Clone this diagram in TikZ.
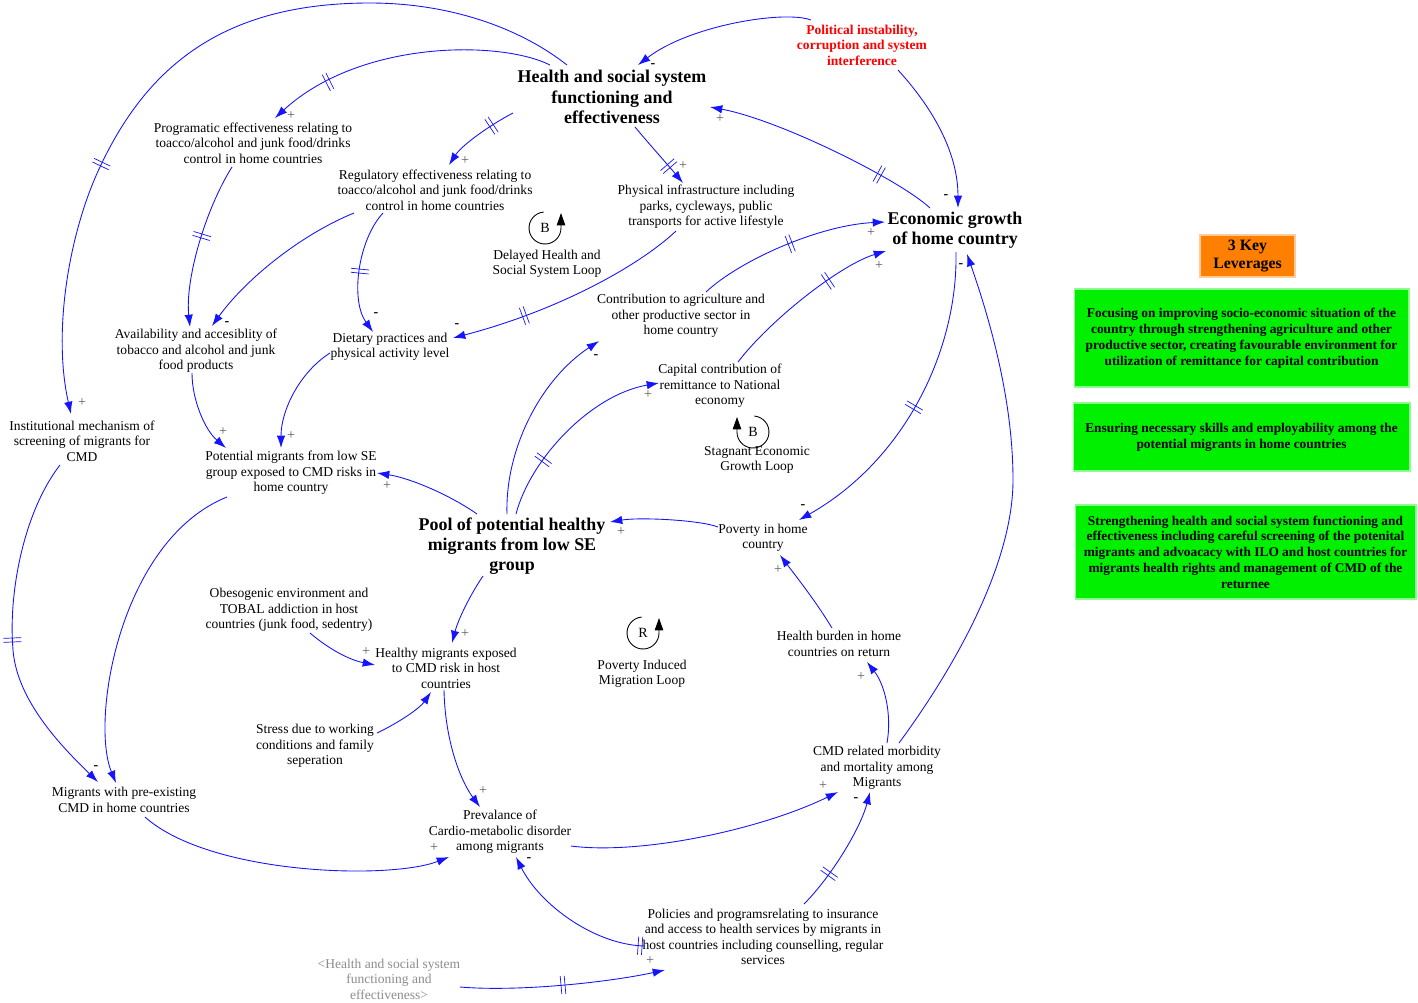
\documentclass[tikz,border=0pt]{standalone}
\usepackage{fontspec}
\setmainfont{Liberation Serif}
\usetikzlibrary{arrows.meta,calc,decorations.markings}
\definecolor{arrblue}{RGB}{20,20,255}
\definecolor{levgreen}{RGB}{0,240,0}
\definecolor{levorange}{RGB}{255,128,0}
\definecolor{polred}{RGB}{255,0,0}
\begin{document}
\begin{tikzpicture}[x=0.02cm,y=-0.02cm,
  var/.style={align=center, inner sep=0pt, font=\fontsize{7.7}{8.8}\selectfont},
  keyvar/.style={align=center, inner sep=0pt, font=\fontsize{10.2}{11.5}\selectfont\bfseries},
  lnk/.style={draw=arrblue, line width=0.5pt, -{Latex[length=7pt,width=4.8pt]}},
  dly/.style={postaction={decorate,decoration={markings,mark=at position #1 with {\draw[arrblue,line width=0.4pt,-] (-2,-9)--(-2,9) (2,-9)--(2,9);}}}},
  plus/.style={inner sep=0pt, text=black!65, font=\fontsize{8}{8}\selectfont},
  minus/.style={inner sep=0pt, text=black, font=\fontsize{8}{8}\selectfont\bfseries},
  loopar/.style={draw=black, line width=0.5pt, -{Triangle[length=7pt,width=4.8pt]}},
  looplab/.style={inner sep=0pt, font=\fontsize{8}{8}\selectfont},
  lev/.style={fill=levgreen, draw=green!45!white, line width=0.6pt, align=center, inner sep=0pt, font=\fontsize{7.6}{9}\selectfont\bfseries}
]
\useasboundingbox (0,0) rectangle (1418,1002);

% ---- variables ----
\node[keyvar] (hss) at (612,97) {Health and social system\\functioning and\\effectiveness};
\node[var, text=polred, font=\fontsize{7.7}{8.8}\selectfont\bfseries] (pol) at (862,45) {Political instability,\\corruption and system\\interference};
\node[var] (prog) at (253,143) {Programatic effectiveness relating to\\toacco/alcohol and junk food/drinks\\control in home countries};
\node[var] (reg) at (435,190) {Regulatory effectiveness relating to\\toacco/alcohol and junk food/drinks\\control in home countries};
\node[var] (phys) at (706,207) {Physical infrastructure including\\parks, cycleways, public\\transports for active lifestyle};
\node[keyvar] (econ) at (955,230) {Economic growth\\of home country};
\node[var] (avail) at (196,351) {Availability and accesiblity of\\tobacco and alcohol and junk\\food products};
\node[var] (diet) at (390,347) {Dietary practices and\\physical activity level};
\node[var] (contrib) at (681,316) {Contribution to agriculture and\\other productive sector in\\home country};
\node[var] (capital) at (720,386) {Capital contribution of\\remittance to National\\economy};
\node[var] (inst) at (82,441) {Institutional mechanism of\\screening of migrants for\\CMD};
\node[var] (potential) at (291,473) {Potential migrants from low SE\\group exposed to CMD risks in\\home country};
\node[keyvar] (pool) at (512,546) {Pool of potential healthy\\migrants from low SE\\group};
\node[var] (poverty) at (763,538) {Poverty in home\\country};
\node[var] (obeso) at (289,610) {Obesogenic environment and\\TOBAL addiction in host\\countries (junk food, sedentry)};
\node[var] (healthy) at (446,668) {Healthy migrants exposed\\to CMD risk in host\\countries};
\node[var] (burden) at (839,644) {Health burden in home\\countries on return};
\node[var] (stress) at (315,746) {Stress due to working\\conditions and family\\seperation};
\node[var] (cmdrel) at (877,768) {CMD related morbidity\\and mortality among\\Migrants};
\node[var] (premig) at (124,800) {Migrants with pre-existing\\CMD in home countries};
\node[var] (preval) at (500,832) {Prevalance of\\Cardio-metabolic disorder\\among migrants};
\node[var] (policies) at (763,937) {Policies and programsrelating to insurance\\and access to health services by migrants in\\host countries including counselling, regular\\services};
\node[var, text=black!45] (shadow) at (389,979) {<Health and social system\\functioning and\\effectiveness>};

% ---- loop symbols ----
\draw[loopar] (545,228) ++(265:16) arc[start angle=265, end angle=0, radius=16] -- ++(0,-15);
\node[looplab] (bl1) at (545,228) {B};
\node[var] (bl1t) at (547,264) {Delayed Health and\\Social System Loop};
\draw[loopar] (753,432) ++(275:16) arc[start angle=275, end angle=540, radius=16] -- ++(0,-15);
\node[looplab] (bl2) at (753,432) {B};
\node[var] (bl2t) at (757,460) {Stagnant Economic\\Growth Loop};
\draw[loopar] (643,633) ++(265:16) arc[start angle=265, end angle=0, radius=16] -- ++(0,-15);
\node[looplab] (rl) at (643,633) {R};
\node[var] (rlt) at (642,674) {Poverty Induced\\Migration Loop};

% ---- links ----
\draw[lnk,dly=0.78] ($(hss)+(-62,-32)$) .. controls (500,40) and (360,40) .. ($(prog)+(22,-25)$);
\draw[lnk,dly=0.68] ($(hss)+(-45,-32)$) .. controls (520,28) and (450,3) .. (370,3) .. controls (230,3) and (150,60) .. (100,167) .. controls (70,230) and (52,330) .. ($(inst)+(-11,-27)$);
\draw[lnk,dly=0.3] ($(hss)+(-99,16)$) .. controls (490,125) and (462,145) .. ($(reg)+(14,-25)$);
\draw[lnk,dly=0.7] ($(hss)+(23,30)$) .. controls (650,145) and (668,165) .. ($(phys)+(-23,-24)$);
\draw[lnk] ($(pol)+(-51,-25)$) .. controls (785,10) and (690,25) .. ($(hss)+(26,-32)$);
\draw[lnk] ($(pol)+(36,25)$) .. controls (930,105) and (958,150) .. ($(econ)+(3,-22)$);
\draw[lnk,dly=0.25] ($(econ)+(-25,-22)$) .. controls (900,180) and (780,120) .. ($(hss)+(98,10)$);
\draw[lnk,dly=0.7] ($(phys)+(-30,24)$) .. controls (640,265) and (560,310) .. ($(diet)+(63,-9)$);
\draw[lnk,dly=0.5] ($(contrib)+(25,-24)$) .. controls (740,260) and (820,225) .. ($(econ)+(-70,-8)$);
\draw[lnk,dly=0.65] ($(capital)+(18,-24)$) .. controls (770,320) and (840,265) .. ($(econ)+(-69,21)$);
\draw[lnk,dly=0.5] ($(econ)+(1,22)$) .. controls (958,350) and (905,460) .. ($(poverty)+(36,-18)$);
\draw[lnk] ($(cmdrel)+(22,-25)$) .. controls (960,660) and (1013,560) .. (1013,480) .. controls (1013,400) and (990,320) .. ($(econ)+(12,24)$);
\draw[lnk] ($(cmdrel)+(10,-25)$) .. controls (892,715) and (885,685) .. ($(burden)+(28,18)$);
\draw[lnk] ($(burden)+(-7,-16)$) .. controls (815,600) and (795,575) .. ($(poverty)+(17,17)$);
\draw[lnk] ($(poverty)+(-45,-11)$) .. controls (700,520) and (640,517) .. ($(pool)+(98,-24)$);
\draw[lnk] ($(pool)+(-5,-32)$) .. controls (505,450) and (540,380) .. ($(contrib)+(-82,25)$);
\draw[lnk,dly=0.3] ($(pool)+(4,-32)$) .. controls (530,460) and (590,395) .. ($(capital)+(-61,-3)$);
\draw[lnk] ($(pool)+(-35,-32)$) .. controls (450,495) and (410,478) .. ($(potential)+(86,0)$);
\draw[lnk] ($(pool)+(-29,30)$) .. controls (470,595) and (458,620) .. ($(healthy)+(6,-25)$);
\draw[lnk,dly=0.45] ($(prog)+(-21,24)$) .. controls (205,210) and (185,280) .. ($(avail)+(-6,-24)$);
\draw[lnk] ($(reg)+(-81,23)$) .. controls (300,235) and (245,280) .. ($(avail)+(16,-25)$);
\draw[lnk,dly=0.5] ($(reg)+(-52,23)$) .. controls (358,240) and (350,300) .. ($(diet)+(-17,-15)$);
\draw[lnk] ($(avail)+(-4,22)$) .. controls (192,400) and (205,430) .. ($(potential)+(-65,-25)$);
\draw[lnk] ($(diet)+(-60,6)$) .. controls (300,372) and (281,410) .. ($(potential)+(-10,-25)$);
\draw[lnk,dly=0.52] ($(inst)+(-22,24)$) .. controls (25,510) and (8,590) .. (13,650) .. controls (17,700) and (60,745) .. ($(premig)+(-26,-18)$);
\draw[lnk] ($(potential)+(-64,24)$) .. controls (120,540) and (90,720) .. ($(premig)+(-8,-17)$);
\draw[lnk] ($(premig)+(21,17)$) .. controls (210,875) and (390,880) .. ($(preval)+(-51,25)$);
\draw[lnk] ($(obeso)+(21,23)$) .. controls (330,650) and (350,660) .. ($(healthy)+(-71,-3)$);
\draw[lnk] ($(stress)+(62,-13)$) .. controls (400,722) and (420,708) .. ($(healthy)+(-15,24)$);
\draw[lnk] ($(healthy)+(-2,22)$) .. controls (445,740) and (460,780) .. ($(preval)+(-20,-25)$);
\draw[lnk] ($(preval)+(71,14)$) .. controls (640,855) and (760,830) .. ($(cmdrel)+(-39,24)$);
\draw[lnk,dly=0.03] ($(policies)+(-118,9)$) .. controls (595,945) and (540,905) .. ($(preval)+(16,25)$);
\draw[lnk,dly=0.3] ($(policies)+(41,-33)$) .. controls (830,878) and (860,830) .. ($(cmdrel)+(-7,24)$);
\draw[lnk,dly=0.5] ($(shadow)+(71,8)$) .. controls (520,992) and (610,982) .. ($(policies)+(-98,33)$);

% ---- polarities ----
\node[plus] (s1) at (291,116) {+};
\node[plus] (s2) at (82,403) {+};
\node[plus] (s3) at (465,161) {+};
\node[plus] (s4) at (683,166) {+};
\node[minus] (s5) at (653,66) {-};
\node[minus] (s6) at (946,197) {-};
\node[plus] (s7) at (720,119) {+};
\node[minus] (s8) at (457,326) {-};
\node[plus] (s9) at (871,233) {+};
\node[plus] (s10) at (879,266) {+};
\node[minus] (s11) at (961,266) {-};
\node[minus] (s12) at (803,507) {-};
\node[plus] (s13) at (621,532) {+};
\node[minus] (s14) at (596,357) {-};
\node[plus] (s15) at (648,395) {+};
\node[plus] (s16) at (387,486) {+};
\node[plus] (s17) at (465,634) {+};
\node[minus] (s18) at (227,324) {-};
\node[minus] (s19) at (376,315) {-};
\node[plus] (s20) at (223,432) {+};
\node[plus] (s21) at (291,436) {+};
\node[minus] (s22) at (96,768) {-};
\node[plus] (s23) at (434,848) {+};
\node[plus] (s24) at (366,652) {+};
\node[plus] (s25) at (483,791) {+};
\node[plus] (s26) at (823,786) {+};
\node[minus] (s27) at (529,860) {-};
\node[minus] (s28) at (856,800) {-};
\node[plus] (s29) at (861,677) {+};
\node[plus] (s30) at (778,570) {+};
\node[plus] (s31) at (650,961) {+};

% ---- leverages ----
\node[fill=levorange, draw=orange!40!white, line width=0.6pt, align=center, inner sep=0pt, minimum width=1.9cm, minimum height=0.84cm, font=\fontsize{9}{10.5}\selectfont\bfseries] (keylev) at (1247.5,256) {3 Key\\Leverages};
\node[lev, minimum width=6.7cm, minimum height=1.96cm] (lev1) at (1241.5,338) {Focusing on improving socio-economic situation of the\\country through strengthening agriculture and other\\productive sector, creating favourable environment for\\utilization of remittance for capital contribution};
\node[lev, minimum width=6.74cm, minimum height=1.36cm] (lev2) at (1241.5,437) {Ensuring necessary skills and employability among the\\potential migrants in home countries};
\node[lev, minimum width=6.82cm, minimum height=1.88cm] (lev3) at (1245.5,552) {Strengthening health and social system functioning and\\effectiveness including careful screening of the potenital\\migrants and advoacacy with ILO and host countries for\\migrants health rights and management of CMD of the\\returnee};
\end{tikzpicture}
\end{document}
